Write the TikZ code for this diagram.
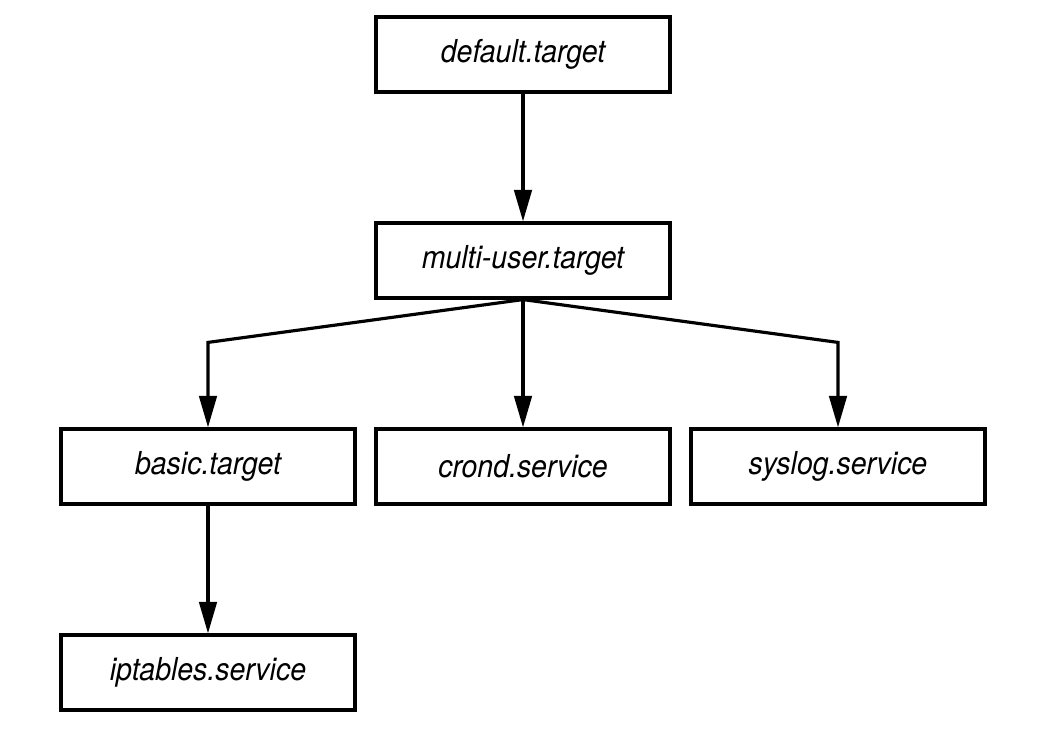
\documentclass[tikz,border=0pt]{standalone}
\usepackage{fontspec}
\setmainfont{TeX Gyre Heros}[FakeStretch=0.9]
\usepackage{tikz}
\usetikzlibrary{trees,arrows.meta,calc}

\begin{document}
\begin{tikzpicture}[level distance=2.06cm,
  level 2/.style={sibling distance=3.15cm},
  every node/.style={rectangle,draw,line width=0.9pt,minimum width=2.94cm,
    minimum height=0.75cm,inner sep=1pt,font=\fontsize{9}{11}\selectfont\itshape},
  edge from parent/.style={draw,line width=0.9pt,-{Triangle[length=9pt,width=5pt]}},
  edge from parent path={(\tikzparentnode.south) --
    ($(\tikzchildnode.north)+(0,0.85)$) -- (\tikzchildnode.north)}]
  \useasboundingbox (-5.23,0.545) rectangle (5.29,-6.915);
  \node (default) {default.target}
    child { node (multiuser) {multi-user.target}
      child { node (basic) {basic.target}
        child { node (iptables) {iptables.service} }
      }
      child { node (crond) {crond.service} }
      child { node (syslog) {syslog.service} }
    };
\end{tikzpicture}
\end{document}
